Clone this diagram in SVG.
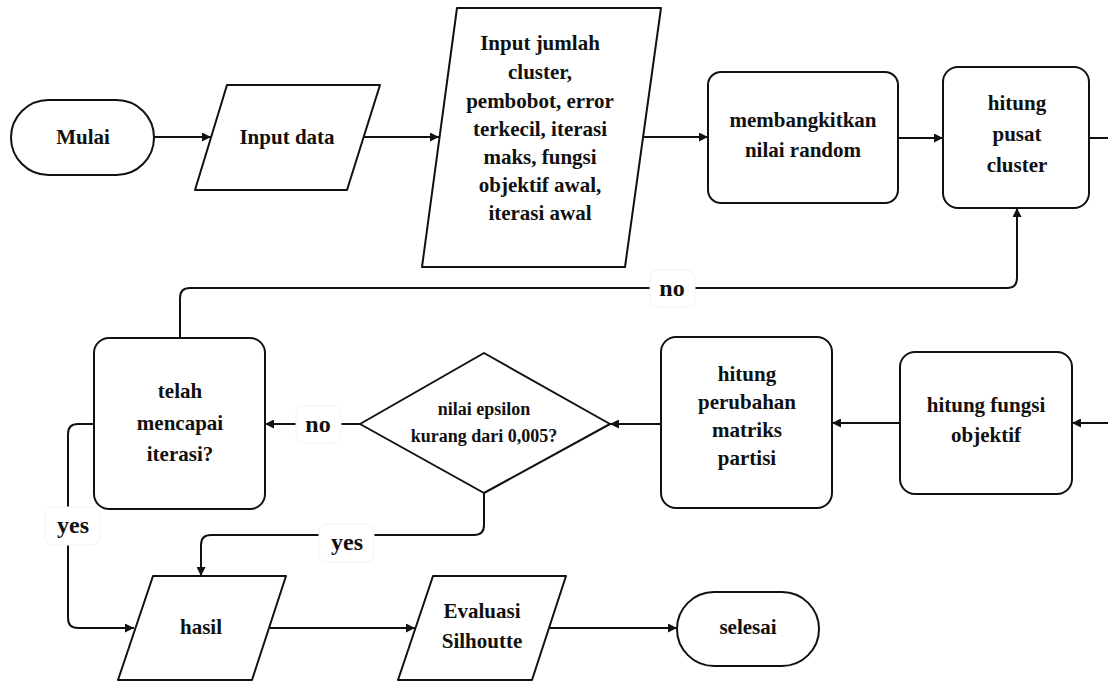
<svg xmlns="http://www.w3.org/2000/svg" width="1108" height="682" viewBox="0 0 1108 682">
<style>
.shape{fill:#fff;stroke:#111;stroke-width:2;stroke-linejoin:round}
.conn{fill:none;stroke:#111;stroke-width:2}
.t{font-family:'Liberation Serif','Times New Roman',serif;font-weight:700;font-size:21px;fill:#111;text-anchor:middle}
.ts{font-size:18px}
.lb{font-family:'Liberation Serif','Times New Roman',serif;font-weight:700;font-size:24px;fill:#111;text-anchor:middle}
.lbg{fill:#fff;stroke:#f3f3f3;stroke-width:1}
</style>
<defs>
<marker id="arr" viewBox="0 0 10 10" refX="10" refY="5" markerWidth="9" markerHeight="9" markerUnits="userSpaceOnUse" orient="auto">
<path d="M0,0 L10,5 L0,10 z" fill="#111"/>
</marker>
</defs>
<rect width="1108" height="682" fill="#fff"/>
<g id="connectors">
<path class="conn" d="M154,137 H211" marker-end="url(#arr)"/>
<path class="conn" d="M364,137 H439" marker-end="url(#arr)"/>
<path class="conn" d="M643,137 H708" marker-end="url(#arr)"/>
<path class="conn" d="M898,138 H943" marker-end="url(#arr)"/>
<path class="conn" d="M1089,138 H1108"/>
<path class="conn" d="M1108,423 H1072" marker-end="url(#arr)"/>
<path class="conn" d="M900,423 H832" marker-end="url(#arr)"/>
<path class="conn" d="M661,424 H610" marker-end="url(#arr)"/>
<path class="conn" d="M360,424 H265" marker-end="url(#arr)"/>
<path class="conn" d="M180,338 V298 Q180,288 190,288 H1007 Q1017,288 1017,278 V208" marker-end="url(#arr)"/>
<path class="conn" d="M94,424 H78 Q68,424 68,434 V618 Q68,628 78,628 H134" marker-end="url(#arr)"/>
<path class="conn" d="M484,493 V525 Q484,535 474,535 H211 Q201,535 201,545 V576" marker-end="url(#arr)"/>
<path class="conn" d="M270,628 H415" marker-end="url(#arr)"/>
<path class="conn" d="M549,628 H677" marker-end="url(#arr)"/>
<g id="label-no-top"><rect class="lbg" x="650" y="270" width="45" height="37" rx="8"/><text class="lb" x="672" y="296">no</text></g>
<g id="label-no-mid"><rect class="lbg" x="296" y="406" width="45" height="37" rx="8"/><text class="lb" x="318" y="432">no</text></g>
<g id="label-yes-left"><rect class="lbg" x="45" y="507" width="55" height="38" rx="8"/><text class="lb" x="73" y="533">yes</text></g>
<g id="label-yes-mid"><rect class="lbg" x="319" y="524" width="55" height="38" rx="8"/><text class="lb" x="347" y="550">yes</text></g>
</g>
<g id="mulai"><rect class="shape" x="11" y="100" width="143" height="75" rx="37.5"/><text class="t" x="83" y="144">Mulai</text></g>
<g id="input-data"><polygon class="shape" points="227,85 380,85 347,190 195,190"/><text class="t" x="287" y="144">Input data</text></g>
<g id="input-params"><polygon class="shape" points="457,8 661,8 625,267 422,267"/>
<text class="t" x="540"><tspan x="540" y="50">Input jumlah</tspan><tspan x="540" y="79">cluster,</tspan><tspan x="540" y="108">pembobot, error</tspan><tspan x="540" y="136">terkecil, iterasi</tspan><tspan x="540" y="164">maks, fungsi</tspan><tspan x="540" y="192">objektif awal,</tspan><tspan x="540" y="220">iterasi awal</tspan></text></g>
<g id="membangkitkan"><rect class="shape" x="708" y="72" width="190" height="131" rx="13"/><text class="t" x="803"><tspan x="803" y="127">membangkitkan</tspan><tspan x="803" y="157">nilai random</tspan></text></g>
<g id="hitung-pusat"><rect class="shape" x="943" y="67" width="146" height="141" rx="15"/><text class="t" x="1017"><tspan x="1017" y="110">hitung</tspan><tspan x="1017" y="141">pusat</tspan><tspan x="1017" y="172">cluster</tspan></text></g>
<g id="hitung-fungsi"><rect class="shape" x="900" y="352" width="172" height="142" rx="15"/><text class="t" x="986"><tspan x="986" y="412">hitung fungsi</tspan><tspan x="986" y="442">objektif</tspan></text></g>
<g id="hitung-perubahan"><rect class="shape" x="661" y="337" width="171" height="171" rx="15"/><text class="t" x="747"><tspan x="747" y="381">hitung</tspan><tspan x="747" y="409">perubahan</tspan><tspan x="747" y="437">matriks</tspan><tspan x="747" y="465">partisi</tspan></text></g>
<g id="epsilon"><polygon class="shape" points="484,353 610,424 484,493 360,424"/><text class="t ts" x="484"><tspan x="484" y="415">nilai epsilon</tspan><tspan x="484" y="442">kurang dari 0,005?</tspan></text></g>
<g id="telah"><rect class="shape" x="94" y="338" width="171" height="171" rx="15"/><text class="t" x="180"><tspan x="180" y="398">telah</tspan><tspan x="180" y="430">mencapai</tspan><tspan x="180" y="461">iterasi?</tspan></text></g>
<g id="hasil"><polygon class="shape" points="153,576 286,576 252,680 118,680"/><text class="t" x="201" y="634">hasil</text></g>
<g id="evaluasi"><polygon class="shape" points="433,576 566,576 532,680 398,680"/><text class="t" x="482"><tspan x="482" y="618">Evaluasi</tspan><tspan x="482" y="648">Silhoutte</tspan></text></g>
<g id="selesai"><rect class="shape" x="677" y="592" width="142" height="74" rx="37"/><text class="t" x="748" y="634">selesai</text></g>
</svg>
